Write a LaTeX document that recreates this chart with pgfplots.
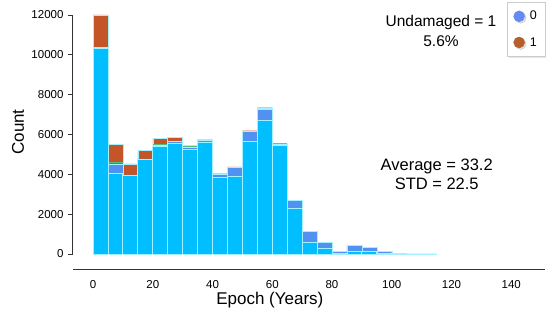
\documentclass[border=0pt]{standalone}
\usepackage{fontspec}
\setmainfont{Liberation Sans}
\usepackage{pgfplots}
\usepackage{pgfplotstable}
\pgfplotsset{compat=1.18}
\usetikzlibrary{shadows}
\definecolor{cyanbar}{RGB}{0,190,255}
\definecolor{capbar}{RGB}{80,145,242}
\definecolor{greenbar}{RGB}{40,160,60}
\definecolor{brownbar}{RGB}{195,85,38}
\definecolor{edgebar}{RGB}{165,240,255}
\definecolor{leg0}{RGB}{100,140,240}
\definecolor{leg1}{RGB}{180,95,45}
\pgfplotstableread{
x cyan cap green brown
2.5 10300 80 0 1620
7.5 4050 470 80 920
12.5 3950 20 0 550
17.5 4750 20 0 450
22.5 5420 40 40 310
27.5 5560 80 0 220
32.5 5260 80 60 70
37.5 5600 90 0 50
42.5 3850 170 0 30
47.5 3920 430 0 30
52.5 5640 520 0 30
57.5 6730 545 0 70
62.5 5450 70 35 0
67.5 2290 420 0 0
72.5 600 520 0 0
77.5 300 290 0 0
82.5 30 105 0 0
87.5 150 285 0 0
92.5 120 200 0 0
97.5 30 120 0 0
102.5 0 35 0 0
107.5 0 10 0 0
112.5 0 5 0 0
}\histdata
\begin{document}
\begin{tikzpicture}
\path[use as bounding box] (-73pt,-51pt) rectangle (477pt,270pt);
\begin{axis}[
  at={(0,0)}, anchor=south west,
  scale only axis, width=472pt, height=255pt,
  xmin=-6.7, xmax=151.3, ymin=-803, ymax=12000,
  axis x line*=bottom, axis y line*=left,
  y axis line style={draw=none},
  x axis line style={line width=1pt, color=black!80},
  ytick={0,2000,...,12000},
  xtick={0,20,...,140},
  major x tick style={draw=none},
  major y tick style={line width=0.8pt, color=black!80},
  major tick length=5pt,
  tick align=outside,
  scaled y ticks=false,
  /pgf/number format/set thousands separator={},
  /pgf/number format/assume math mode=true,
  yticklabel style={font=\fontsize{11.5}{13}\selectfont, xshift=-1pt},
  xticklabel style={font=\fontsize{11.5}{13}\selectfont, yshift=-2pt},
  xlabel={Epoch (Years)},
  xlabel style={at={(axis description cs:0.417,-0.118)}, anchor=center, font=\fontsize{17}{20}\selectfont},
  ylabel={Count},
  ylabel style={at={(axis description cs:-0.1165,0.541)}, anchor=center, font=\fontsize{17}{20}\selectfont},
  ybar stacked, bar width=5,
  clip=false,
  legend style={at={(axis description cs:1,1.051)}, anchor=north east,
    draw=black!20, fill=white, font=\fontsize{12.5}{14}\selectfont,
    row sep=12pt, inner xsep=6pt, inner ysep=7pt, column sep=3pt,
    drop shadow={shadow xshift=1.5pt, shadow yshift=-1.5pt, opacity=0.2}},
  legend cell align=left,
]
\addplot[fill=cyanbar, draw=edgebar, line width=0.8pt, forget plot] table[x=x, y=cyan] {\histdata};
\addplot[fill=capbar, draw=edgebar, line width=0.4pt, forget plot] table[x=x, y=cap] {\histdata};
\addplot[fill=greenbar, draw=none, forget plot] table[x=x, y=green] {\histdata};
\addplot[fill=brownbar, draw=edgebar, line width=0.4pt, forget plot] table[x=x, y=brown] {\histdata};
\addlegendimage{legend image code/.code={\fill[leg0] (0.4em,0) circle (5.5pt);}}
\addlegendentry{0}
\addlegendimage{legend image code/.code={\fill[leg1] (0.4em,0) circle (5.5pt);}}
\addlegendentry{1}
\draw[line width=1pt, black!80] (axis cs:-6.7,0) -- (axis cs:-6.7,12000);
\node[align=center, font=\fontsize{15.5}{19.5}\selectfont] at (axis description cs:0.7797,0.937) {Undamaged = 1\\5.6\%};
\node[align=center, font=\fontsize{16.5}{19}\selectfont] at (axis description cs:0.7706,0.376) {Average = 33.2\\STD = 22.5};
\end{axis}
\end{tikzpicture}
\end{document}
